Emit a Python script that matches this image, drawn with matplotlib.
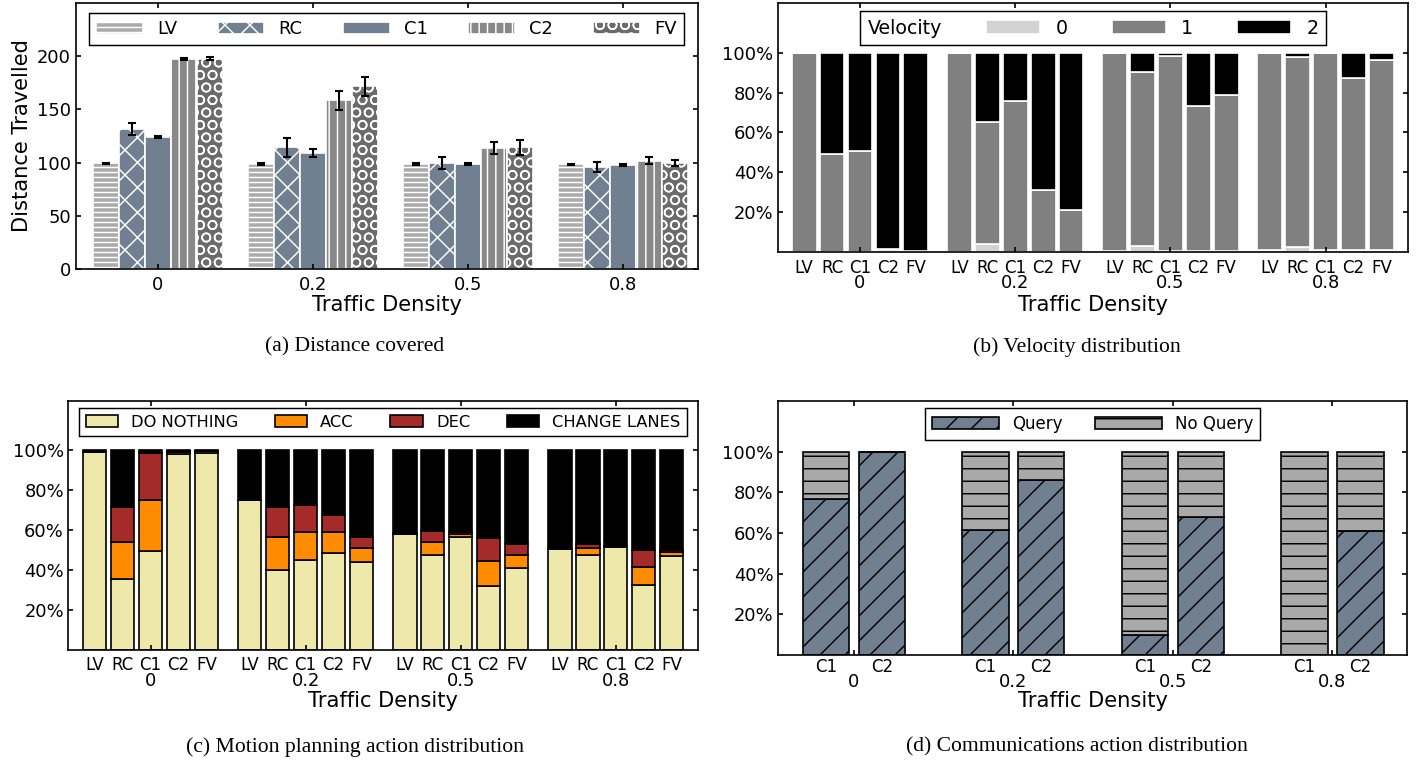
import matplotlib
matplotlib.use("Agg")
import matplotlib.pyplot as plt
import numpy as np

DPI = 150

densities = ["0", "0.2", "0.5", "0.8"]
agents = ["LV", "RC", "C1", "C2", "FV"]
comm_agents = ["C1", "C2"]

# (a) distance travelled, one row per traffic density, one column per agent
dist_mean = [
    [99.2, 131.8, 124.0, 197.2, 197.8],
    [98.9, 114.2, 109.2, 158.7, 171.8],
    [98.9, 99.5, 98.6, 113.6, 114.2],
    [98.3, 95.8, 97.7, 101.7, 99.8],
]
dist_err = [
    [0.8, 5.5, 0.8, 0.8, 1.0],
    [0.8, 8.5, 3.6, 9.0, 9.0],
    [0.8, 5.8, 1.0, 5.5, 7.2],
    [0.8, 4.4, 0.8, 3.4, 2.8],
]

# (b) velocity distribution (%), rows = density, cols = agent
vel_0 = [
    [0.0, 0.0, 0.0, 0.3, 0.2],
    [0.0, 4.0, 0.0, 0.0, 0.0],
    [0.5, 2.8, 0.5, 0.5, 0.5],
    [0.8, 2.7, 0.8, 0.8, 0.8],
]
vel_1 = [
    [100.0, 49.4, 50.6, 1.0, 0.3],
    [100.0, 61.2, 75.7, 31.0, 21.3],
    [99.5, 87.5, 97.8, 73.0, 78.2],
    [99.2, 95.3, 99.2, 86.6, 95.8],
]
vel_2 = [
    [0.0, 50.6, 49.4, 98.7, 99.5],
    [0.0, 34.8, 24.3, 69.0, 78.7],
    [0.0, 9.7, 1.7, 26.5, 21.3],
    [0.0, 2.0, 0.0, 12.6, 3.4],
]
vel_labels = ["0", "1", "2"]

# (c) motion planning actions (%)
act_nothing = [
    [99.0, 35.5, 49.7, 98.0, 98.7],
    [75.2, 39.9, 44.9, 48.7, 44.2],
    [58.0, 47.6, 56.3, 31.7, 41.2],
    [50.3, 47.7, 51.3, 32.2, 47.1],
]
act_acc = [
    [0.0, 18.4, 25.2, 1.3, 1.0],
    [0.0, 16.4, 14.2, 10.3, 6.9],
    [0.2, 6.3, 1.8, 12.9, 6.5],
    [0.2, 3.1, 0.5, 9.3, 1.8],
]
act_dec = [
    [0.0, 17.6, 23.9, 0.2, 0.0],
    [0.0, 15.4, 13.3, 8.8, 5.3],
    [0.1, 5.9, 1.2, 11.5, 5.4],
    [0.2, 2.1, 0.2, 8.4, 1.2],
]
act_change = [
    [1.0, 28.5, 1.2, 0.5, 0.3],
    [24.8, 28.3, 27.6, 32.2, 43.6],
    [41.7, 40.2, 40.7, 43.9, 46.9],
    [49.3, 47.1, 48.0, 50.1, 49.9],
]
act_labels = ["DO NOTHING", "ACC", "DEC", "CHANGE LANES"]

# (d) communication actions (%), cols = C1, C2
comm_query = [[76.8, 99.8], [61.6, 86.2], [9.9, 67.8], [0.0, 60.9]]
comm_noquery = [[23.2, 0.2], [38.4, 13.8], [90.1, 32.2], [100.0, 39.1]]
comm_labels = ["Query", "No Query"]

dist_colors = ["#aaaaaa", "#708090", "#708090", "#888888", "#6b6b6b"]
dist_hatches = ["-----", "xx", "", "|||", "OO"]
vel_colors = ["#d3d3d3", "#808080", "#000000"]
act_colors = ["#eee8aa", "#ff8c00", "#a52a2a", "#000000"]

plt.rcParams["font.family"] = "DejaVu Sans"
plt.rcParams["axes.linewidth"] = 0.8
plt.rcParams["hatch.linewidth"] = 0.7

fig = plt.figure(figsize=(1426 / DPI, 762 / DPI), dpi=DPI)
ax_a = fig.add_axes([0.0533, 0.647, 0.4362, 0.3491])
ax_b = fig.add_axes([0.5454, 0.6693, 0.4418, 0.3268])
ax_c = fig.add_axes([0.0479, 0.1476, 0.4416, 0.3265])
ax_d = fig.add_axes([0.5454, 0.1404, 0.4416, 0.3337])

groups = np.arange(len(densities))


def style_axes(ax, ypad):
    ax.tick_params(which="major", direction="in", top=True, right=True,
                   length=2.5, width=0.8, labelsize=8.6)
    ax.tick_params(axis="y", pad=ypad)


def pct_axis(ax):
    ax.set_ylim(0, 125)
    ticks = [20, 40, 60, 80, 100]
    ax.set_yticks(ticks)
    ax.set_yticklabels([f"{t}%" for t in ticks])


def group_ticks(ax, offsets, names, minor_pad, major_pad):
    ax.set_xticks(groups)
    ax.set_xticklabels(densities)
    ax.set_xticks(np.add.outer(groups, offsets).ravel(), minor=True)
    ax.set_xticklabels(names * len(groups), minor=True)
    ax.xaxis.remove_overlapping_locs = False
    ax.tick_params(axis="x", which="minor", length=0, pad=minor_pad, labelsize=8.0)
    ax.tick_params(axis="x", which="major", pad=major_pad)


def box_legend(ax, anchor, fontsize, handlelength, ncol, **kw):
    leg = ax.legend(loc="upper left", bbox_to_anchor=anchor, mode="expand",
                    borderaxespad=0, ncol=ncol, fontsize=fontsize,
                    handlelength=handlelength, handletextpad=0.8,
                    fancybox=False, edgecolor="k", framealpha=1, **kw)
    leg.get_frame().set_linewidth(0.7)
    return leg


# ---- (a) distance covered
mean = np.array(dist_mean)
err = np.array(dist_err)
w_a = 0.168
for i, name in enumerate(agents):
    ax_a.bar(groups + (i - 2) * w_a, mean[:, i], w_a, yerr=err[:, i],
             color=dist_colors[i], edgecolor="white", linewidth=0.8,
             hatch=dist_hatches[i], label=name,
             error_kw=dict(ecolor="k", elinewidth=1.0, capsize=2, capthick=1.0))
ax_a.set_xlim(-0.529, 3.484)
ax_a.set_ylim(0, 250)
ax_a.set_yticks([0, 50, 100, 150, 200])
ax_a.set_xticks(groups)
ax_a.set_xticklabels(densities)
style_axes(ax_a, 2.4)
ax_a.tick_params(axis="x", pad=3.6)
ax_a.set_ylabel("Distance Travelled", fontsize=10.1)
ax_a.yaxis.set_label_coords(-0.0712, 0.5)
ax_a.set_xlabel("Traffic Density", fontsize=10.1)
ax_a.xaxis.set_label_coords(0.5, -0.096)
box_legend(ax_a, (0.0209, 0.9624, 0.9566, 0), 8.6, 2.6, 5)

# ---- (b) velocity distribution
off5 = (np.arange(5) - 2) * 0.18
xs5 = np.add.outer(groups, off5).ravel()
bottom = np.zeros(xs5.size)
for vals, col, lab in zip([vel_0, vel_1, vel_2], vel_colors, vel_labels):
    v = np.ravel(vals)
    ax_b.bar(xs5, v, 0.16, bottom=bottom, color=col, edgecolor="white",
             linewidth=0.8, label=lab)
    bottom += v
ax_b.set_xlim(-0.53, 3.53)
pct_axis(ax_b)
style_axes(ax_b, 2.1)
group_ticks(ax_b, off5, agents, 3.5, 10.8)
ax_b.set_xlabel("Traffic Density", fontsize=10.1)
ax_b.xaxis.set_label_coords(0.5, -0.171)
leg = box_legend(ax_b, (0.1306, 0.9679, 0.7397, 0), 9.1, 2.86, 3,
                 title="Velocity", title_fontsize=9.1)
# put the legend title inline, as the first column
vp = leg._legend_box
title_box, handle_box = vp.get_children()
vp._children = [handle_box]
handle_box._children.insert(0, title_box)

# ---- (c) motion planning actions
bottom = np.zeros(xs5.size)
for vals, col, lab in zip([act_nothing, act_acc, act_dec, act_change],
                          act_colors, act_labels):
    v = np.ravel(vals)
    ax_c.bar(xs5, v, 0.15, bottom=bottom, color=col, edgecolor="k",
             linewidth=0.8, label=lab)
    bottom += v
ax_c.set_xlim(-0.53, 3.53)
pct_axis(ax_c)
style_axes(ax_c, 2.1)
group_ticks(ax_c, off5, agents, 3.1, 11.0)
ax_c.set_xlabel("Traffic Density", fontsize=10.1)
ax_c.xaxis.set_label_coords(0.5, -0.168)
box_legend(ax_c, (0.017, 0.9707, 0.9655, 0), 7.8, 2.0, 4)

# ---- (d) communication actions
off2 = np.array([-0.175, 0.175])
xs2 = np.add.outer(groups, off2).ravel()
q = np.ravel(comm_query)
nq = np.ravel(comm_noquery)
ax_d.bar(xs2, q, 0.29, color="#708090", edgecolor="k", hatch="//",
         linewidth=0.8, label=comm_labels[0])
ax_d.bar(xs2, nq, 0.29, bottom=q, color="#a9a9a9", edgecolor="k", hatch="--",
         linewidth=0.8, label=comm_labels[1])
ax_d.set_xlim(-0.477, 3.47)
pct_axis(ax_d)
style_axes(ax_d, 2.1)
group_ticks(ax_d, off2, comm_agents, 1.6, 8.6)
ax_d.set_xlabel("Traffic Density", fontsize=10.1)
ax_d.xaxis.set_label_coords(0.5, -0.142)
box_legend(ax_d, (0.2344, 0.970, 0.5314, 0), 8.0, 4.0, 2)

# captions
cap = dict(ha="center", va="center", fontsize=10.4, family="Liberation Serif")
fig.text(355 / 1426, 1 - 347 / 762, "(a) Distance covered", **cap)
fig.text(1077 / 1426, 1 - 347 / 762, "(b) Velocity distribution", **cap)
fig.text(355 / 1426, 1 - 746.7 / 762, "(c) Motion planning action distribution", **cap)
fig.text(1077 / 1426, 1 - 746.7 / 762, "(d) Communications action distribution", **cap)

fig.savefig("out.png", dpi=DPI)
